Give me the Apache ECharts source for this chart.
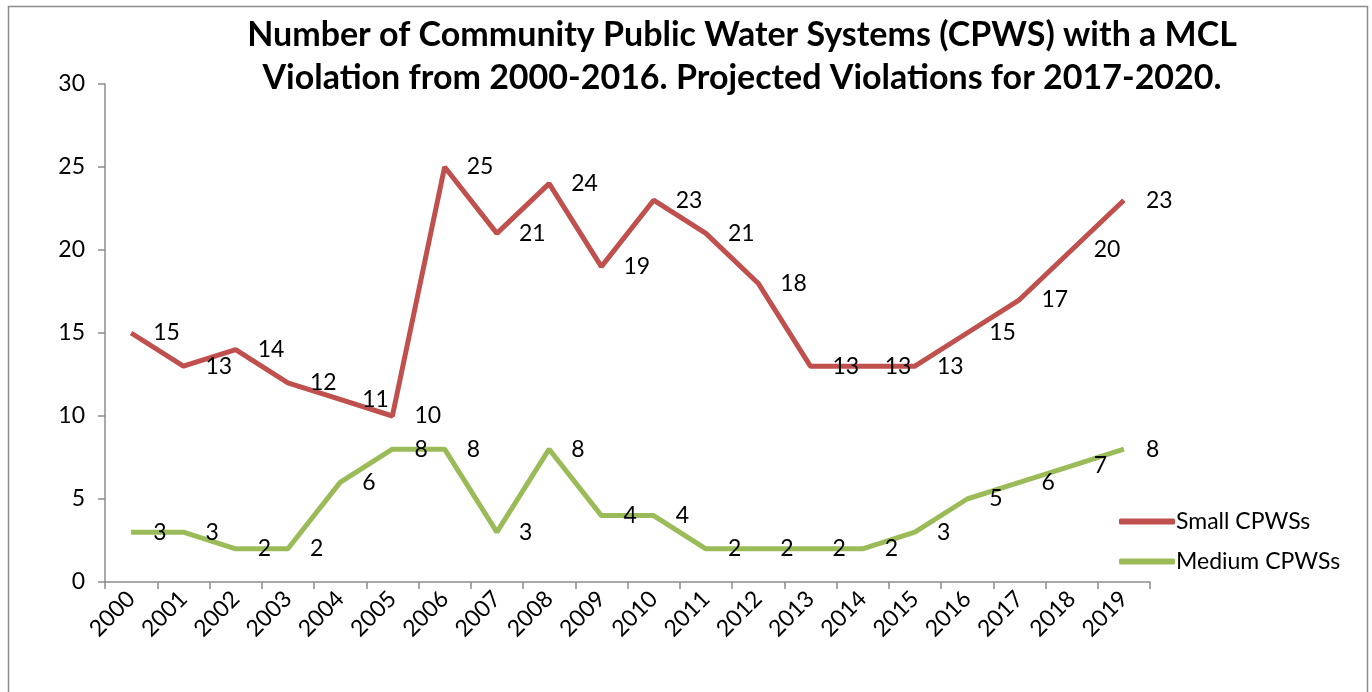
<!DOCTYPE html>
<html>
<head>
<meta charset="utf-8">
<script src="https://cdn.jsdelivr.net/npm/echarts@6/dist/echarts.min.js"></script>
<style>
html,body{margin:0;padding:0;background:#fff;}
#chart{width:1372px;height:692px;}
</style>
</head>
<body>
<div id="chart"></div>
<script>
const years = ['2000','2001','2002','2003','2004','2005','2006','2007','2008','2009','2010','2011','2012','2013','2014','2015','2016','2017','2018','2019'];
const smallCPWS = [15,13,14,12,11,10,25,21,24,19,23,21,18,13,13,13,15,17,20,23];
const mediumCPWS = [3,3,2,2,6,8,8,3,8,4,4,2,2,2,2,3,5,6,7,8];
const yTicks = {min:0, max:30, interval:5};

const FONT = 'Lato, "Open Sans", sans-serif';
const FS = 23;
const chart = echarts.init(document.getElementById('chart'));
const labelCfg = {show:true, position:'right', distance:22, color:'#000', fontSize:FS, fontFamily:FONT};
chart.setOption({
  animation:false,
  graphic:[{type:'rect', shape:{x:8.5,y:6.5,width:1359,height:700}, style:{fill:'none', stroke:'#8c8c8c', lineWidth:1.5}}],
  title:{
    text:'Number of Community Public Water Systems (CPWS) with a MCL\nViolation from 2000-2016. Projected Violations for 2017-2020.',
    left:737, top:9, textAlign:'center',
    textStyle:{fontFamily:FONT, fontWeight:'bold', fontSize:34, lineHeight:43, color:'#000'}
  },
  legend:{
    orient:'vertical', left:1114, top:505, itemGap:17,
    itemWidth:56, itemHeight:6, icon:'roundRect',
    textStyle:{fontFamily:FONT, fontSize:FS, color:'#000', padding:[0,0,0,-4]},
    data:['Small CPWSs','Medium CPWSs']
  },
  grid:{left:105, right:222, top:84, bottom:110},
  xAxis:{
    type:'category', data:years, boundaryGap:true,
    axisLine:{lineStyle:{color:'#8c8c8c', width:1.5}},
    axisTick:{show:true, length:7, alignWithLabel:false, lineStyle:{color:'#8c8c8c', width:1.5}},
    axisLabel:{rotate:45, fontSize:FS, fontFamily:FONT, color:'#000', margin:13, interval:0}
  },
  yAxis:{
    type:'value', min:yTicks.min, max:yTicks.max, interval:yTicks.interval,
    splitLine:{show:false},
    axisLine:{show:true, lineStyle:{color:'#8c8c8c', width:1.5}},
    axisTick:{show:true, length:7, lineStyle:{color:'#8c8c8c', width:1.5}},
    axisLabel:{fontSize:FS, fontFamily:FONT, color:'#000', margin:20}
  },
  series:[
    {name:'Small CPWSs', type:'line', data:smallCPWS, showSymbol:true, symbol:'circle', symbolSize:0,
     lineStyle:{color:'#C0504D', width:5}, itemStyle:{color:'#C0504D'}, label:labelCfg},
    {name:'Medium CPWSs', type:'line', data:mediumCPWS, showSymbol:true, symbol:'circle', symbolSize:0,
     lineStyle:{color:'#9BBB59', width:5}, itemStyle:{color:'#9BBB59'}, label:labelCfg}
  ]
});
</script>
</body>
</html>
